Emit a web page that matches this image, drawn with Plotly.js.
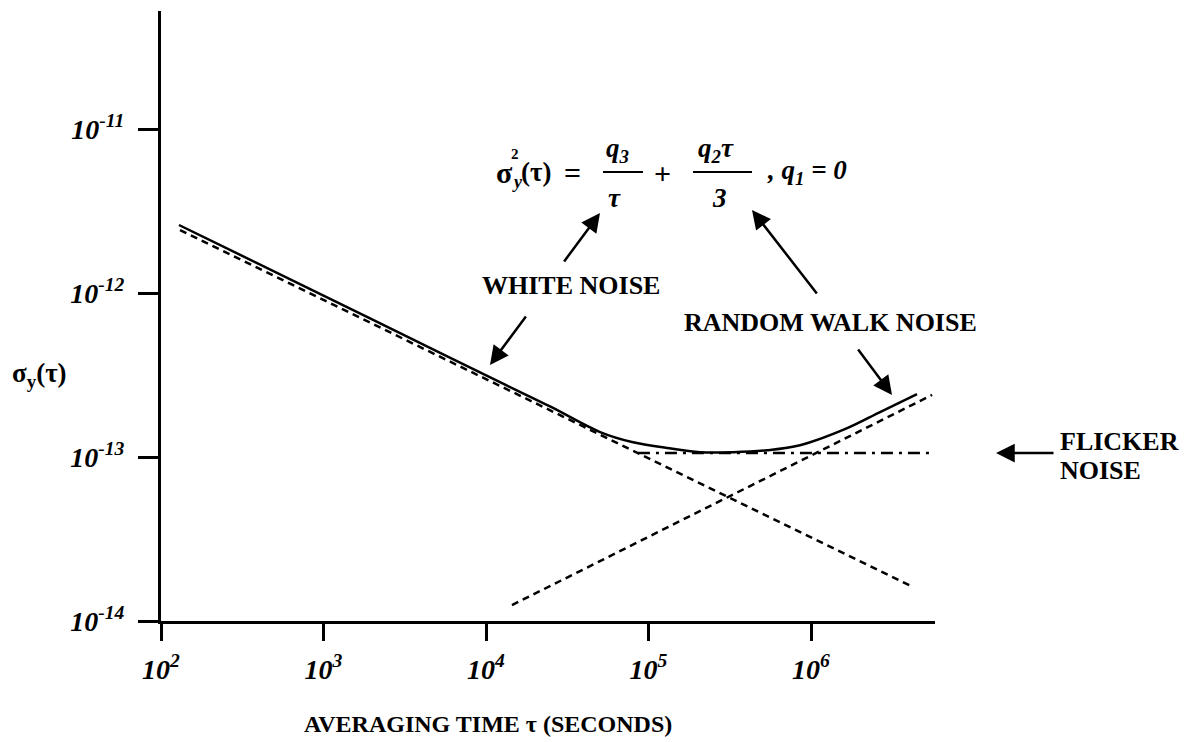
<!DOCTYPE html>
<html>
<head>
<meta charset="utf-8">
<script src="https://cdn.plot.ly/plotly-3.0.1.min.js"></script>
<style>html,body{margin:0;padding:0;background:#fff;}#chart{width:1192px;height:742px;}</style>
</head>
<body>
<div id="chart"></div>
<script>
// ---- data ----
const tauTotal = [129, 1000, 2958, 12190, 25120, 50350, 80350, 130000, 207500, 331000, 536000, 855000, 1670000, 2660000, 4490000];
const sigmaTotal = [2.60e-12, 9.66e-13, 5.70e-13, 2.86e-13, 2.02e-13, 1.42e-13, 1.23e-13, 1.135e-13, 1.07e-13, 1.07e-13, 1.10e-13, 1.18e-13, 1.50e-13, 1.88e-13, 2.42e-13];
const tauWhite = [131, 4250000];
const sigmaWhite = [2.42e-12, 1.61e-14];
const tauRandomWalk = [14450, 5560000];
const sigmaRandomWalk = [1.25e-14, 2.39e-13];
const tauFlicker = [86100, 6170000];
const sigmaFlicker = [1.057e-13, 1.057e-13];
const xTickVals = [1e2, 1e3, 1e4, 1e5, 1e6];
const xTickText = ['10<sup>2</sup>', '10<sup>3</sup>', '10<sup>4</sup>', '10<sup>5</sup>', '10<sup>6</sup>'];
const yTickVals = [1e-14, 1e-13, 1e-12, 1e-11];
const yTickText = ['10<sup>-14</sup>', '10<sup>-13</sup>', '10<sup>-12</sup>', '10<sup>-11</sup>'];

// ---- layout helpers ----
const L = 161, R = 935, T = 11, B = 621;
const PX = p => (p - L) / (R - L);
const PY = p => (B - p) / (B - T);
const FAM = 'Liberation Serif, Times New Roman, serif';
const bold = s => ({family: FAM, size: s, color: '#000', weight: 'bold'});
const boldIt = s => ({family: FAM, size: s, color: '#000', weight: 'bold', style: 'italic'});

const traces = [
  {x: tauWhite, y: sigmaWhite, mode: 'lines', line: {color: '#000', width: 2.5, dash: '7px,5px'}, name: 'white'},
  {x: tauRandomWalk, y: sigmaRandomWalk, mode: 'lines', line: {color: '#000', width: 2.5, dash: '7px,5px'}, name: 'random walk'},
  {x: tauFlicker, y: sigmaFlicker, mode: 'lines', line: {color: '#000', width: 2.5, dash: '12px,6px,3px,6px'}, name: 'flicker'},
  {x: tauTotal, y: sigmaTotal, mode: 'lines', line: {color: '#000', width: 2.5, shape: 'spline', smoothing: 1.0}, name: 'total'}
];

function txt(text, px, py, font, xanchor) {
  return {text: text, xref: 'paper', yref: 'paper', x: PX(px), y: PY(py), showarrow: false,
          font: font, xanchor: xanchor || 'center', yanchor: 'middle'};
}
function arrow(hx, hy, tx, ty) {
  return {text: '', xref: 'paper', yref: 'paper', x: PX(hx), y: PY(hy), ax: tx - hx, ay: ty - hy,
          showarrow: true, arrowhead: 2, arrowsize: 1.5, arrowwidth: 2.5, arrowcolor: '#000', standoff: 0};
}

const annotations = [
  txt('σ<sub>y</sub>(τ)', 40, 375, bold(27)),
  txt('AVERAGING TIME τ (SECONDS)', 302, 724, bold(24), 'left'),
  txt('WHITE NOISE', 571, 286, bold(26)),
  txt('RANDOM WALK NOISE', 830, 322, bold(26)),
  txt('FLICKER', 1058, 441, bold(26), 'left'),
  txt('NOISE', 1058, 471, bold(26), 'left'),
  // formula
  txt('σ', 504, 172, bold(30)),
  txt('2', 515, 154, bold(15)),
  txt('y', 517, 182, boldIt(18)),
  txt('(τ)', 536, 172, bold(27)),
  txt('=', 572, 172, bold(30)),
  txt('q<sub>3</sub>', 617, 150, boldIt(27)),
  txt('τ', 614, 198, boldIt(27)),
  txt('+', 662, 173, bold(30)),
  txt('q<sub>2</sub>τ', 716, 150, boldIt(27)),
  txt('3', 719, 198, boldIt(27)),
  txt(', q<sub>1</sub> = 0', 765, 172, boldIt(27), 'left'),
  // arrows
  arrow(600, 213, 563, 263),
  arrow(490, 365, 527, 315),
  arrow(752, 210, 818, 295),
  arrow(892, 395, 857, 348),
  arrow(996, 453, 1055, 453)
];

const shapes = [
  {type: 'line', xref: 'paper', yref: 'paper', x0: PX(603), x1: PX(643), y0: PY(172), y1: PY(172), line: {color: '#000', width: 2}},
  {type: 'line', xref: 'paper', yref: 'paper', x0: PX(693), x1: PX(752), y0: PY(172), y1: PY(172), line: {color: '#000', width: 2}}
];

const axisCommon = {
  type: 'log', showgrid: false, zeroline: false, showline: true, linecolor: '#000', linewidth: 3,
  ticks: 'outside', tickwidth: 3, tickcolor: '#000', tickmode: 'array', tickfont: boldIt(28)
};

const layout = {
  width: 1192, height: 742,
  margin: {l: L, r: 1192 - R, t: T, b: 742 - B, pad: 0},
  paper_bgcolor: '#fff', plot_bgcolor: '#fff',
  showlegend: false,
  xaxis: Object.assign({}, axisCommon, {range: [2, 6.763], tickvals: xTickVals, ticktext: xTickText, ticklen: 17, ticklabelstandoff: 4}),
  yaxis: Object.assign({}, axisCommon, {range: [-14, -10.28], tickvals: yTickVals, ticktext: yTickText, ticklen: 20, ticklabelstandoff: 8}),
  annotations: annotations,
  shapes: shapes
};

Plotly.newPlot('chart', traces, layout, {staticPlot: true, displayModeBar: false});
</script>
</body>
</html>
